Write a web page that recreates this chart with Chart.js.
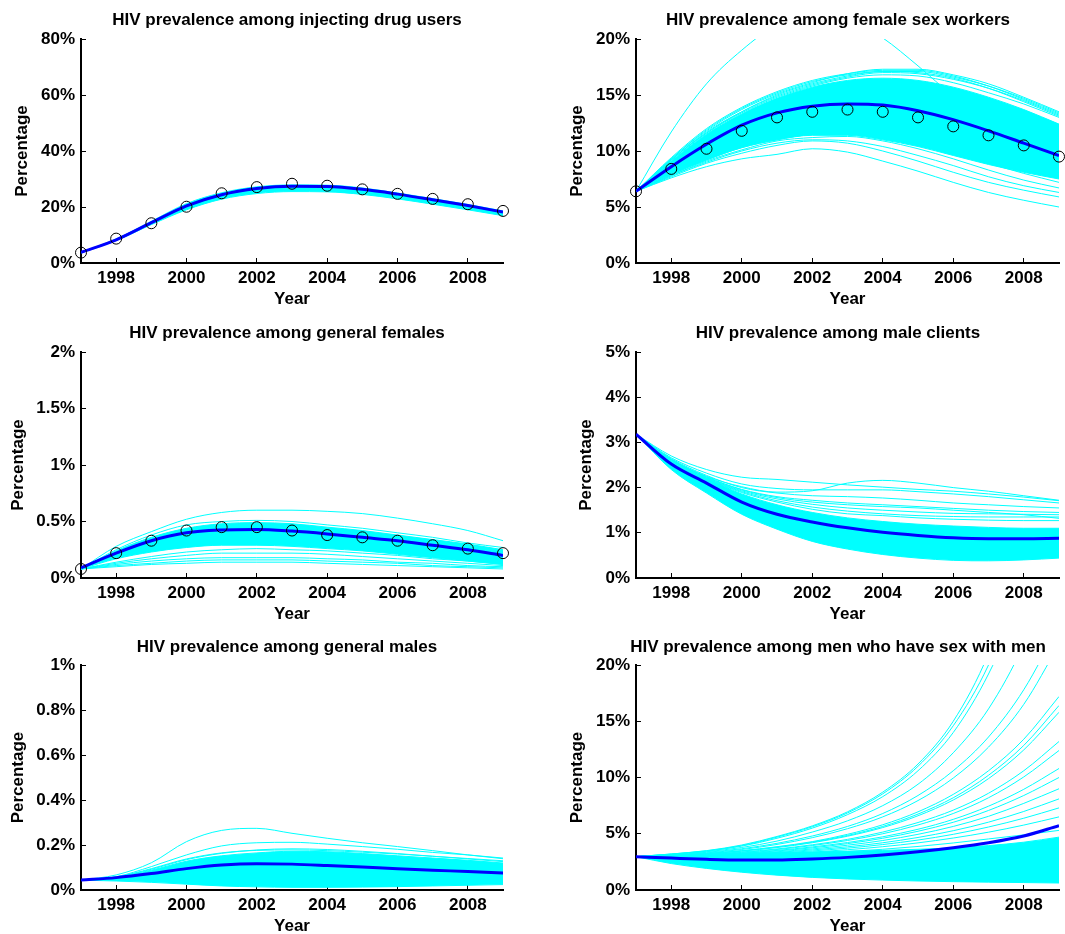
<!DOCTYPE html>
<html><head><meta charset="utf-8">
<script src="https://cdn.jsdelivr.net/npm/chart.js@4.4.1/dist/chart.umd.min.js"></script>
<style>
html,body{margin:0;padding:0;background:#fff;overflow:hidden;width:1065px;height:934px;}
#wrap{position:relative;width:1065px;height:934px;overflow:hidden;background:#fff;}
canvas{position:absolute;}
</style></head><body><div id="wrap">
<canvas id="c1"></canvas><canvas id="c2"></canvas><canvas id="c3"></canvas>
<canvas id="c4"></canvas><canvas id="c5"></canvas><canvas id="c6"></canvas>
</div>
<script>
// ---------- shared axes ----------
const years = [1997,1998,1999,2000,2001,2002,2003,2004,2005,2006,2007,2008,2009];
const xTicks = [1998,2000,2002,2004,2006,2008];

// ---------- injecting drug users ----------
const idu_yTicks = [0,20,40,60,80];
const idu_obs  = [3.7, 8.7, 14.2, 20.1, 24.9, 27.1, 28.3, 27.6, 26.3, 24.7, 22.9, 21.0, 18.6];
const idu_mean = [3.8, 8.3, 14.4, 20.4, 24.4, 26.6, 27.4, 27.3, 26.3, 24.6, 22.6, 20.5, 18.2];
const idu_hi   = [3.8, 8.6, 14.9, 21.2, 25.1, 27.2, 27.9, 27.8, 26.8, 25.0, 23.0, 20.9, 18.6];
const idu_lo   = [3.6, 8.0, 13.7, 19.0, 22.8, 24.8, 25.5, 25.4, 24.5, 22.9, 21.0, 19.0, 16.9];
const idu_runs = [];

// ---------- female sex workers ----------
const fsw_yTicks = [0,5,10,15,20];
const fsw_obs  = [6.4, 8.4, 10.2, 11.8, 13.0, 13.5, 13.7, 13.5, 13.0, 12.2, 11.4, 10.5, 9.5];
const fsw_mean = [6.4, 8.6, 10.6, 12.3, 13.4, 14.0, 14.2, 14.1, 13.6, 12.8, 11.8, 10.7, 9.6];
const fsw_hi   = [6.4, 9.1, 11.5, 13.3, 14.7, 15.7, 16.3, 16.5, 16.3, 15.7, 14.8, 13.7, 12.4];
const fsw_lo   = [6.4, 7.9, 9.2, 10.3, 11.0, 11.4, 11.4, 11.0, 10.4, 9.6, 8.8, 8.1, 7.5];
const fsw_runs = [
  [6.4, 11.7, 16.0, 19.0, 21.3, 22.4, 21.9, 20.1, 17.6, 14.9, 12.7, 11.0, 9.7],
  [6.4, 9.4, 12.0, 13.9, 15.3, 16.3, 16.9, 17.2, 17.2, 16.7, 15.8, 14.6, 13.3],
  [6.4, 9.3, 11.8, 13.7, 15.1, 16.1, 16.9, 17.3, 17.3, 16.8, 16.0, 14.8, 13.5],
  [6.4, 9.2, 11.6, 13.4, 14.8, 15.8, 16.5, 16.8, 16.7, 16.1, 15.2, 14.2, 13.0],
  [6.4, 9.2, 11.7, 13.5, 14.9, 15.9, 16.6, 17.0, 16.9, 16.4, 15.6, 14.5, 13.2],
  [6.4, 9.3, 11.9, 13.8, 15.2, 16.2, 16.8, 17.1, 17.0, 16.5, 15.6, 14.4, 13.1],
  [6.4, 9.2, 11.6, 13.5, 15.0, 16.0, 16.7, 17.1, 17.1, 16.6, 15.8, 14.7, 13.4],
  [6.4, 7.6, 8.6, 9.3, 9.7, 10.2, 9.9, 9.1, 8.2, 7.2, 6.3, 5.6, 5.0],
  [6.4, 7.7, 8.9, 9.8, 10.5, 10.9, 10.7, 10.0, 9.1, 8.1, 7.2, 6.5, 5.9],
  [6.4, 7.8, 9.0, 10.0, 10.7, 11.0, 10.9, 10.4, 9.6, 8.7, 7.7, 6.9, 6.3],
  [6.4, 7.8, 9.1, 10.1, 10.9, 11.2, 11.3, 10.9, 10.2, 9.3, 8.3, 7.4, 6.7],
  [6.4, 7.9, 9.2, 10.3, 11.0, 11.5, 11.6, 11.3, 10.7, 9.8, 8.9, 8.0, 7.2]
];

// ---------- general females ----------
const gf_yTicks = [0,0.5,1,1.5,2];
const gf_obs  = [0.08, 0.22, 0.33, 0.42, 0.45, 0.45, 0.42, 0.38, 0.36, 0.33, 0.29, 0.26, 0.22];
const gf_mean = [0.09, 0.22, 0.33, 0.40, 0.425, 0.43, 0.415, 0.39, 0.36, 0.33, 0.29, 0.25, 0.20];
const gf_hi   = [0.08, 0.24, 0.36, 0.44, 0.48, 0.49, 0.48, 0.45, 0.42, 0.38, 0.34, 0.30, 0.25];
const gf_lo   = [0.08, 0.17, 0.23, 0.27, 0.29, 0.29, 0.28, 0.26, 0.24, 0.21, 0.18, 0.15, 0.12];
const gf_runs = [
  [0.08, 0.28, 0.41, 0.52, 0.58, 0.60, 0.60, 0.59, 0.57, 0.53, 0.48, 0.42, 0.33],
  [0.08, 0.25, 0.38, 0.47, 0.50, 0.51, 0.50, 0.47, 0.44, 0.40, 0.36, 0.31, 0.27],
  [0.08, 0.10, 0.12, 0.13, 0.14, 0.14, 0.14, 0.13, 0.12, 0.11, 0.10, 0.09, 0.08],
  [0.08, 0.12, 0.15, 0.17, 0.18, 0.18, 0.18, 0.17, 0.16, 0.14, 0.13, 0.11, 0.10],
  [0.08, 0.13, 0.17, 0.20, 0.22, 0.22, 0.22, 0.21, 0.19, 0.17, 0.15, 0.13, 0.11],
  [0.08, 0.14, 0.19, 0.23, 0.25, 0.26, 0.25, 0.24, 0.22, 0.20, 0.17, 0.15, 0.12],
  [0.08, 0.11, 0.13, 0.15, 0.16, 0.16, 0.16, 0.15, 0.14, 0.13, 0.11, 0.10, 0.09]
];

// ---------- male clients ----------
const mc_yTicks = [0,1,2,3,4,5];
const mc_mean = [3.18, 2.52, 2.10, 1.68, 1.41, 1.24, 1.11, 1.01, 0.94, 0.89, 0.87, 0.87, 0.88];
const mc_hi   = [3.18, 2.58, 2.20, 1.86, 1.62, 1.45, 1.33, 1.25, 1.19, 1.15, 1.12, 1.10, 1.10];
const mc_lo   = [3.18, 2.40, 1.88, 1.41, 1.08, 0.81, 0.64, 0.52, 0.44, 0.39, 0.38, 0.40, 0.44];
const mc_runs = [
  [3.18, 2.70, 2.40, 2.23, 2.18, 2.12, 2.06, 2.01, 1.96, 1.92, 1.86, 1.79, 1.71],
  [3.18, 2.62, 2.25, 2.02, 1.90, 1.93, 2.10, 2.16, 2.10, 2.00, 1.92, 1.82, 1.72],
  [3.18, 2.66, 2.32, 2.08, 1.98, 1.95, 1.95, 1.95, 1.91, 1.86, 1.80, 1.73, 1.66],
  [3.18, 2.64, 2.27, 2.00, 1.88, 1.82, 1.80, 1.77, 1.72, 1.66, 1.62, 1.58, 1.55],
  [3.18, 2.62, 2.24, 1.96, 1.80, 1.72, 1.66, 1.62, 1.58, 1.54, 1.50, 1.47, 1.45],
  [3.18, 2.61, 2.22, 1.93, 1.75, 1.63, 1.55, 1.50, 1.46, 1.43, 1.42, 1.41, 1.40],
  [3.18, 2.60, 2.21, 1.91, 1.71, 1.57, 1.48, 1.42, 1.38, 1.36, 1.35, 1.35, 1.35],
  [3.18, 2.62, 2.23, 1.95, 1.78, 1.68, 1.62, 1.58, 1.55, 1.50, 1.45, 1.40, 1.32],
  [3.18, 2.59, 2.20, 1.89, 1.68, 1.52, 1.42, 1.38, 1.33, 1.30, 1.28, 1.27, 1.27]
];

// ---------- general males ----------
const gm_yTicks = [0,0.2,0.4,0.6,0.8,1];
const gm_mean = [0.044, 0.055, 0.073, 0.095, 0.111, 0.117, 0.115, 0.109, 0.102, 0.094, 0.088, 0.082, 0.076];
const gm_hi   = [0.044, 0.058, 0.088, 0.128, 0.152, 0.165, 0.172, 0.170, 0.162, 0.152, 0.142, 0.132, 0.120];
const gm_lo   = [0.044, 0.040, 0.034, 0.026, 0.018, 0.014, 0.012, 0.012, 0.013, 0.015, 0.018, 0.021, 0.024];
const gm_runs = [
  [0.044, 0.067, 0.121, 0.215, 0.265, 0.274, 0.252, 0.230, 0.210, 0.193, 0.175, 0.156, 0.139],
  [0.044, 0.059, 0.104, 0.156, 0.196, 0.210, 0.212, 0.204, 0.193, 0.181, 0.167, 0.156, 0.142],
  [0.044, 0.057, 0.092, 0.135, 0.163, 0.178, 0.183, 0.180, 0.172, 0.162, 0.150, 0.138, 0.126],
  [0.044, 0.058, 0.095, 0.138, 0.165, 0.176, 0.178, 0.175, 0.168, 0.160, 0.150, 0.140, 0.130]
];

// ---------- men who have sex with men ----------
const msm_yTicks = [0,5,10,15,20];
const msm_mean = [2.96, 2.84, 2.73, 2.67, 2.67, 2.76, 2.90, 3.11, 3.40, 3.76, 4.20, 4.80, 5.72];
const msm_hi   = [2.96, 3.05, 3.15, 3.25, 3.32, 3.38, 3.45, 3.52, 3.62, 3.75, 3.95, 4.25, 4.70];
const msm_lo   = [2.96, 2.35, 1.92, 1.58, 1.32, 1.12, 0.98, 0.88, 0.80, 0.74, 0.70, 0.66, 0.62];
const msm_runs = [
  [2.96, 3.2, 3.5, 4.0, 4.76, 5.7, 6.95, 8.7, 11.2, 15.0, 21.0, 30, 42],
  [2.96, 3.2, 3.48, 3.95, 4.7, 5.62, 6.85, 8.55, 11.0, 14.6, 20.0, 28, 39],
  [2.96, 3.18, 3.45, 3.9, 4.6, 5.5, 6.7, 8.3, 10.6, 14.0, 19.2, 26.5, 37],
  [2.96, 3.15, 3.4, 3.78, 4.35, 5.15, 6.15, 7.5, 9.4, 12.2, 16.1, 21.8, 29.5],
  [2.96, 3.12, 3.35, 3.67, 4.15, 4.8, 5.65, 6.8, 8.4, 10.6, 13.6, 17.8, 23.5],
  [2.96, 3.1, 3.3, 3.6, 4.05, 4.65, 5.45, 6.5, 7.95, 9.95, 12.7, 16.5, 21.8],
  [2.96, 3.08, 3.25, 3.5, 3.85, 4.3, 4.95, 5.8, 6.95, 8.5, 10.6, 13.4, 17.2],
  [2.96, 3.08, 3.24, 3.48, 3.82, 4.25, 4.85, 5.65, 6.75, 8.2, 10.2, 12.85, 16.4],
  [2.96, 3.07, 3.22, 3.45, 3.77, 4.2, 4.78, 5.55, 6.6, 8.0, 9.9, 12.45, 15.8],
  [2.96, 3.05, 3.18, 3.38, 3.65, 4.02, 4.5, 5.15, 6.0, 7.1, 8.6, 10.6, 13.2],
  [2.96, 3.04, 3.16, 3.34, 3.6, 3.95, 4.4, 5.0, 5.78, 6.8, 8.2, 10.05, 12.4],
  [2.96, 3.03, 3.13, 3.29, 3.52, 3.83, 4.22, 4.73, 5.4, 6.28, 7.45, 8.95, 10.8],
  [2.96, 3.02, 3.11, 3.26, 3.47, 3.75, 4.12, 4.6, 5.22, 6.02, 7.07, 8.4, 10.0],
  [2.96, 3.01, 3.09, 3.22, 3.4, 3.65, 3.98, 4.4, 4.95, 5.65, 6.55, 7.7, 9.0],
  [2.96, 3.0, 3.07, 3.18, 3.34, 3.56, 3.84, 4.2, 4.67, 5.27, 6.03, 6.98, 8.1],
  [2.96, 2.99, 3.05, 3.14, 3.28, 3.47, 3.72, 4.04, 4.44, 4.95, 5.6, 6.38, 7.3],
  [2.96, 2.98, 3.02, 3.1, 3.21, 3.37, 3.58, 3.85, 4.19, 4.62, 5.14, 5.77, 6.5],
  [2.96, 2.96, 2.99, 3.05, 3.14, 3.26, 3.42, 3.62, 3.87, 4.18, 4.54, 4.9, 5.3]
];

// ---------- drawing ----------
const FONT = "'Liberation Sans', Arial, Helvetica, sans-serif";
const CYAN = '#00FFFF', BLUE = '#0000FF';
const pts = arr => years.map((x, i) => ({x: x, y: arr[i]}));

function makePanel(p) {
  const cv = document.getElementById(p.id);
  cv.width = p.cw; cv.height = p.ch;
  cv.style.left = p.cx + 'px'; cv.style.top = p.cy + 'px';
  const lh = 17 * 1.2;
  const xH = 47;
  const tp = p.titleY - p.cy - lh / 2;
  const tb = p.T - p.cy - tp - lh;
  const yW = p.L - p.cx;
  const rW = p.cx + p.cw - p.R;
  const ds = [];
  if (p.obs) ds.push({data: pts(p.obs), showLine: false, pointRadius: 5.5, pointStyle: 'circle',
    pointBorderColor: '#000', pointBackgroundColor: 'rgba(0,0,0,0)', pointBorderWidth: 1, clip: false});
  ds.push({data: pts(p.mean), borderColor: BLUE, borderWidth: 3, pointRadius: 0});
  p.runs.forEach(r => ds.push({data: pts(r), borderColor: CYAN, borderWidth: 1, pointRadius: 0}));
  ds.push({data: pts(p.hi), borderColor: CYAN, borderWidth: 1, pointRadius: 0, fill: '+1', backgroundColor: CYAN});
  ds.push({data: pts(p.lo), borderColor: CYAN, borderWidth: 1, pointRadius: 0});
  const boldFont = {family: FONT, size: 17, weight: 'bold'};
  new Chart(cv, {
    type: 'line',
    data: {datasets: ds},
    options: {
      responsive: false, animation: false, devicePixelRatio: 1, events: [],
      elements: {line: {cubicInterpolationMode: 'monotone', fill: false}},
      layout: {padding: {left: 0, top: 0, right: 0, bottom: p.cy + p.ch - (p.B + xH)}},
      plugins: {
        legend: {display: false}, tooltip: {enabled: false},
        filler: {drawTime: 'beforeDatasetsDraw'},
        title: {display: true, text: p.title, color: '#000', font: boldFont,
          padding: {top: tp, bottom: tb}}
      },
      scales: {
        x: {
          type: 'linear', min: 1997, max: 2009,
          afterBuildTicks: s => { s.ticks = xTicks.map(v => ({value: v})); },
          afterFit: s => { s.height = xH; },
          ticks: {color: '#000', font: boldFont, padding: 10, autoSkip: false, maxRotation: 0,
            callback: v => String(v)},
          grid: {display: true, drawOnChartArea: false, drawTicks: true, tickLength: -5, color: '#000', lineWidth: 1},
          border: {display: true, color: '#000', width: 2},
          title: {display: true, text: 'Year', color: '#000', font: boldFont, padding: {top: 0, bottom: 0}}
        },
        y: {
          type: 'linear', min: 0, max: p.yTicks[p.yTicks.length - 1],
          afterBuildTicks: s => { s.ticks = p.yTicks.map(v => ({value: v})); },
          afterFit: s => { s.width = yW; },
          ticks: {color: '#000', font: boldFont, padding: 11, callback: v => String(v) + '%'},
          grid: {display: true, drawOnChartArea: false, drawTicks: true, tickLength: -5, color: '#000', lineWidth: 1},
          border: {display: true, color: '#000', width: 2},
          title: {display: true, text: 'Percentage', color: '#000', font: boldFont,
            padding: {top: p.yTitleX - p.cx - lh / 2, bottom: 0}}
        },
        spacer: {
          type: 'linear', position: 'right', display: true,
          afterFit: s => { s.width = rW; },
          ticks: {display: false}, grid: {display: false}, border: {display: false}
        }
      }
    }
  });
}

const LEFT = {cx: 0, cw: 574, L: 81, R: 503};
const RIGHT = {cx: 565, cw: 546, L: 636, R: 1059};
const ROW1 = {cy: 0, ch: 310, T: 39, B: 263, titleY: 20.5};
const ROW2 = {cy: 312, ch: 313, T: 352, B: 578, titleY: 333.5};
const ROW3 = {cy: 622, ch: 315, T: 665, B: 890, titleY: 647.5};

makePanel(Object.assign({id: 'c1', title: 'HIV prevalence among injecting drug users', yTitleX: 22,
  yTicks: idu_yTicks, obs: idu_obs, mean: idu_mean, hi: idu_hi, lo: idu_lo, runs: idu_runs}, LEFT, ROW1));
makePanel(Object.assign({id: 'c2', title: 'HIV prevalence among female sex workers', yTitleX: 577,
  yTicks: fsw_yTicks, obs: fsw_obs, mean: fsw_mean, hi: fsw_hi, lo: fsw_lo, runs: fsw_runs}, RIGHT, ROW1));
makePanel(Object.assign({id: 'c3', title: 'HIV prevalence among general females', yTitleX: 18,
  yTicks: gf_yTicks, obs: gf_obs, mean: gf_mean, hi: gf_hi, lo: gf_lo, runs: gf_runs}, LEFT, ROW2));
makePanel(Object.assign({id: 'c4', title: 'HIV prevalence among male clients', yTitleX: 586,
  yTicks: mc_yTicks, obs: null, mean: mc_mean, hi: mc_hi, lo: mc_lo, runs: mc_runs}, RIGHT, ROW2));
makePanel(Object.assign({id: 'c5', title: 'HIV prevalence among general males', yTitleX: 18,
  yTicks: gm_yTicks, obs: null, mean: gm_mean, hi: gm_hi, lo: gm_lo, runs: gm_runs}, LEFT, ROW3));
makePanel(Object.assign({id: 'c6', title: 'HIV prevalence among men who have sex with men', yTitleX: 577,
  yTicks: msm_yTicks, obs: null, mean: msm_mean, hi: msm_hi, lo: msm_lo, runs: msm_runs}, RIGHT, ROW3));
</script>
</body></html>
